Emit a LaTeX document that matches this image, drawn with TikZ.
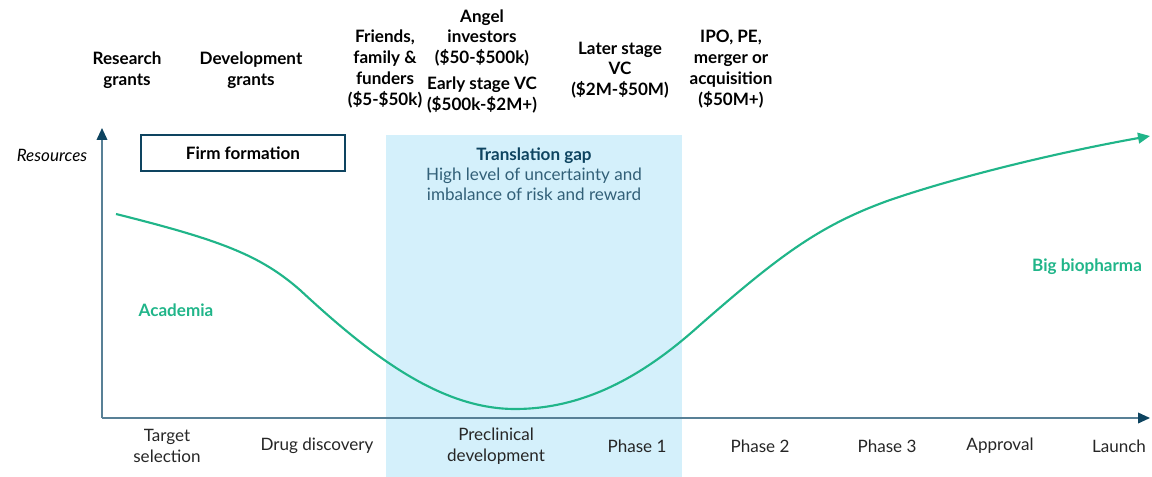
\documentclass[tikz,border=0pt]{standalone}
\usepackage{fontspec}
\setmainfont{Lato}
\usetikzlibrary{arrows.meta}
\definecolor{axisblue}{RGB}{88,128,150}
\definecolor{darkteal}{RGB}{14,68,96}
\definecolor{gapblue}{RGB}{212,240,251}
\definecolor{curvegreen}{RGB}{32,181,137}
\tikzset{
    fund/.style={font=\fontsize{12.8}{15.6}\selectfont\bfseries, align=center, text=black},
    stage/.style={font=\fontsize{12.8}{15.6}\selectfont, align=center, text=black!85},
    player/.style={font=\fontsize{12.8}{15.6}\selectfont\bfseries, text=curvegreen},
}
\begin{document}
\begin{tikzpicture}[x=0.75pt,y=-0.75pt]
    \useasboundingbox (0,0) rectangle (1152,477);
    % translation gap
    \fill[gapblue] (386,135) rectangle (682,477);
    \node[font=\fontsize{12.8}{15.2}\selectfont, align=center, text=darkteal!85] (gap) at (534,174)
        {{\bfseries\color{darkteal}Translation gap}\\High level of uncertainty and\\imbalance of risk and reward};
    % axes
    \coordinate (origin) at (102,418);
    \coordinate (ytip) at (102,128);
    \coordinate (xtip) at (1150,418);
    \draw[axisblue, line width=1.2pt, -{Triangle[length=9pt,width=8pt,color=darkteal]}] (origin) -- (ytip);
    \draw[axisblue, line width=1.2pt, -{Triangle[length=9pt,width=8pt,color=darkteal]}] (origin) -- (xtip);
    \node[font=\fontsize{12.8}{15.6}\selectfont\itshape] (res) at (52,155) {Resources};
    % firm formation
    \node[draw=darkteal, line width=1.5pt, minimum width=153pt, minimum height=27.5pt,
        font=\fontsize{12.8}{15.6}\selectfont\bfseries] (firm) at (243,153) {Firm formation};
    % resources curve
    \draw[curvegreen, line width=1.6pt, -{Triangle[length=9pt,width=8pt]}] (116,214)
        .. controls (220,240) and (260,255) .. (300,290)
        .. controls (370,355) and (440,409) .. (515,409)
        .. controls (590,409) and (650,370) .. (700,325)
        .. controls (780,255) and (820,225) .. (890,200)
        .. controls (960,176) and (1060,152) .. (1150,136);
    \node[player] (acad) at (176,310) {Academia};
    \node[player] (pharma) at (1087,267) {Big biopharma};
    % funding sources
    \node[fund] (rg) at (127,70) {Research\\grants};
    \node[fund] (dg) at (251,70) {Development\\grants};
    \node[fund] (ff) at (385,69) {Friends,\\family \&\\funders\\(\$5-\$50k)};
    \node[fund] (angel) at (482,38) {Angel\\investors\\(\$50-\$500k)};
    \node[fund] (early) at (482,95) {Early stage VC\\(\$500k-\$2M+)};
    \node[fund] (late) at (620,70) {Later stage\\VC\\(\$2M-\$50M)};
    \node[fund] (ipo) at (731,69) {IPO, PE,\\merger or\\acquisition\\(\$50M+)};
    % stages
    \node[stage] (s1) at (167,446) {Target\\selection};
    \node[stage] (s2) at (317,446) {Drug discovery};
    \node[stage] (s3) at (496,446) {Preclinical\\development};
    \node[stage] (s4) at (637,446) {Phase 1};
    \node[stage] (s5) at (760,446) {Phase 2};
    \node[stage] (s6) at (887,446) {Phase 3};
    \node[stage] (s7) at (1000,446) {Approval};
    \node[stage] (s8) at (1119,446) {Launch};
\end{tikzpicture}
\end{document}
